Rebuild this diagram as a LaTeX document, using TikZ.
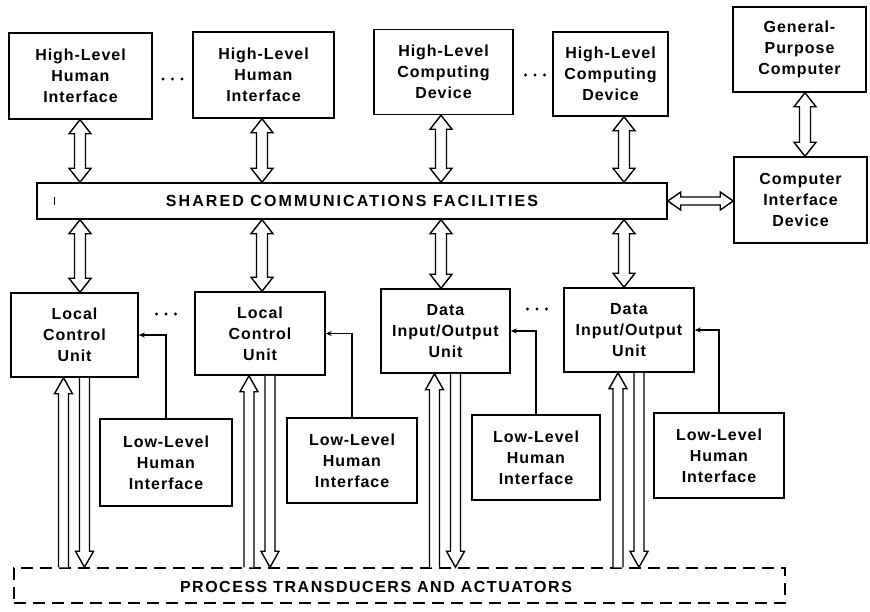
\documentclass[tikz,border=0pt]{standalone}
\usepackage{fontspec}
\setmainfont{Liberation Sans}[LetterSpace=6, BoldFont={* Bold}]
\newfontfamily\busfont{Liberation Sans Bold}[LetterSpace=13]
\newfontfamily\procfont{Liberation Sans Bold}[LetterSpace=9.5]
\usetikzlibrary{arrows.meta,calc}

\tikzset{
  box/.style={draw, line width=1.5pt, align=center, inner sep=0pt,
    font=\fontsize{16}{21}\selectfont\bfseries},
  blockarrow/.style={draw, line width=1.4pt, fill=white, line join=miter},
  link/.style={line width=1.4pt, -{Stealth[length=6pt,width=5pt]}},
  dashedbox/.style={draw, line width=1.5pt, dash pattern=on 12pt off 7pt,
    inner sep=0pt},
}

% vertical two-headed block arrow, #1 = upper end, #2 = lower end
\newcommand\biarrow[2]{%
  \draw[blockarrow] let \p1=(#1), \p2=(#2) in
    (\x1,\y1) -- ({\x1+11pt},{\y1-14pt}) -- ({\x1+5.5pt},{\y1-14pt})
    -- ({\x1+5.5pt},{\y2+14pt}) -- ({\x1+11pt},{\y2+14pt}) -- (\x1,\y2)
    -- ({\x1-11pt},{\y2+14pt}) -- ({\x1-5.5pt},{\y2+14pt})
    -- ({\x1-5.5pt},{\y1-14pt}) -- ({\x1-11pt},{\y1-14pt}) -- cycle;}
% horizontal two-headed block arrow, #1 = left end, #2 = right end
\newcommand\hbiarrow[2]{%
  \draw[blockarrow] let \p1=(#1), \p2=(#2) in
    (\x1,\y1) -- ({\x1+13pt},{\y1+9pt}) -- ({\x1+13pt},{\y1+4pt})
    -- ({\x2-13pt},{\y1+4pt}) -- ({\x2-13pt},{\y1+9pt}) -- (\x2,\y1)
    -- ({\x2-13pt},{\y1-9pt}) -- ({\x2-13pt},{\y1-4pt})
    -- ({\x1+13pt},{\y1-4pt}) -- ({\x1+13pt},{\y1-9pt}) -- cycle;}
% one-headed block arrow pointing up, #1 = tail (below), #2 = tip (above)
\newcommand\risearrow[2]{%
  \draw[blockarrow] let \p1=(#1), \p2=(#2) in
    ({\x1-5pt},\y1) -- ({\x1-5pt},{\y2-16pt}) -- ({\x1-9pt},{\y2-16pt})
    -- (\x1,\y2) -- ({\x1+9pt},{\y2-16pt}) -- ({\x1+5pt},{\y2-16pt})
    -- ({\x1+5pt},\y1);}
% one-headed block arrow pointing down, #1 = tail (above), #2 = tip (below)
\newcommand\fallarrow[2]{%
  \draw[blockarrow] let \p1=(#1), \p2=(#2) in
    ({\x1-5pt},\y1) -- ({\x1-5pt},{\y2+16pt}) -- ({\x1-9pt},{\y2+16pt})
    -- (\x1,\y2) -- ({\x1+9pt},{\y2+16pt}) -- ({\x1+5pt},{\y2+16pt})
    -- ({\x1+5pt},\y1);}
% three dots marking repeated units
\newcommand\moredots[1]{%
  \fill (#1) circle (1.7) ++(-9.5,0) circle (1.7) ++(19,0) circle (1.7);}

\begin{document}
\begin{tikzpicture}[x=1pt,y=-1pt]
\useasboundingbox (0,0) rectangle (870,611);

% upper row
\node[box, minimum width=143, minimum height=86] (hl1) at (80.5,76)
  {High-Level\\Human\\Interface};
\node[box, minimum width=141, minimum height=86] (hl2) at (263.5,75)
  {High-Level\\Human\\Interface};
\node[box, minimum width=139, minimum height=85] (hl3) at (443.5,72)
  {High-Level\\Computing\\Device};
\node[box, minimum width=115, minimum height=84] (hl4) at (610.5,74)
  {High-Level\\Computing\\Device};
\node[box, minimum width=133, minimum height=85] (gpc) at (799.5,49.5)
  {General-\\Purpose\\Computer};
\node[box, minimum width=133, minimum height=86] (cid) at (800.5,200)
  {Computer\\Interface\\Device};

% communications bus
\node[box, minimum width=630, minimum height=36] (bar) at (352,201)
  {\busfont SHARED COMMUNICATIONS FACILITIES};
\draw[line width=1.2pt] ($(bar.west)+(18,-4)$) -- ++(0,8);

% lower row
\node[box, minimum width=127, minimum height=84] (lcu1) at (74.5,335)
  {Local\\Control\\Unit};
\node[box, minimum width=130, minimum height=83] (lcu2) at (260,333.5)
  {Local\\Control\\Unit};
\node[box, minimum width=129, minimum height=84] (dio1) at (445.5,331)
  {Data\\Input/Output\\Unit};
\node[box, minimum width=130, minimum height=84] (dio2) at (629,330)
  {Data\\Input/Output\\Unit};

\node[box, minimum width=132, minimum height=87] (ll1) at (166,462.5)
  {Low-Level\\Human\\Interface};
\node[box, minimum width=130, minimum height=85] (ll2) at (352,460.5)
  {Low-Level\\Human\\Interface};
\node[box, minimum width=128, minimum height=85] (ll3) at (536,457.5)
  {Low-Level\\Human\\Interface};
\node[box, minimum width=130, minimum height=85] (ll4) at (719,455.5)
  {Low-Level\\Human\\Interface};

% process level
\node[dashedbox, minimum width=771, minimum height=35] (proc) at (399.5,585.5) {};
\node[font=\fontsize{16}{18}\selectfont\procfont] (proctext) at (376,586.5)
  {PROCESS TRANSDUCERS AND ACTUATORS};

% bus columns
\coordinate (colA) at (80,0);
\coordinate (colB) at (262,0);
\coordinate (colC) at (441,0);
\coordinate (colD) at (624,0);
\coordinate (colE) at (805,0);

\biarrow{hl1.south -| colA}{bar.north -| colA}
\biarrow{hl2.south -| colB}{bar.north -| colB}
\biarrow{hl3.south -| colC}{bar.north -| colC}
\biarrow{hl4.south -| colD}{bar.north -| colD}
\biarrow{gpc.south -| colE}{cid.north -| colE}
\hbiarrow{bar.east}{bar.east -| cid.west}

\biarrow{bar.south -| colA}{lcu1.north -| colA}
\biarrow{bar.south -| colB}{lcu2.north -| colB}
\biarrow{bar.south -| colC}{dio1.north -| colC}
\biarrow{bar.south -| colD}{dio2.north -| colD}

% unit <-> process lines
\foreach \u in {lcu1,lcu2,dio1,dio2}{
  \coordinate (\u-in) at ($(\u.south)+(-11,0)$);
  \coordinate (\u-out) at ($(\u.south)+(10,0)$);
  \risearrow{proc.north -| \u-in}{\u-in}
  \fallarrow{\u-out}{proc.north -| \u-out}
}

% low-level human interfaces
\draw[link] (ll1.north) |- (lcu1.east);
\draw[link] (ll2.north) |- (lcu2.east);
\draw[link] (ll3.north) |- (dio1.east);
\draw[link] (ll4.north) |- (dio2.east);

% repetition marks
\coordinate (dotsA) at (172.5,79);
\coordinate (dotsB) at (535,75);
\coordinate (dotsC) at (166,314);
\coordinate (dotsD) at (537,309);
\moredots{dotsA}
\moredots{dotsB}
\moredots{dotsC}
\moredots{dotsD}
\end{tikzpicture}
\end{document}
